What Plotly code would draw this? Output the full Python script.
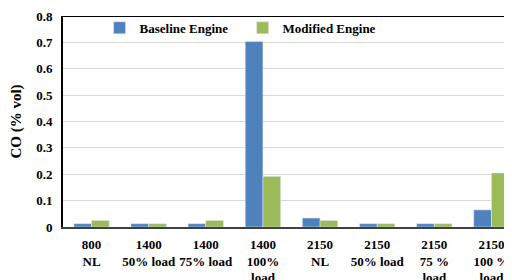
import plotly.graph_objects as go

categories = ["800<br>NL", "1400<br>50% load", "1400<br>75% load", "1400<br>100%<br>load",
              "2150<br>NL", "2150<br>50% load", "2150<br>75 %<br>load", "2150<br>100 %<br>load"]
baseline = [0.0125, 0.0125, 0.0125, 0.703, 0.034, 0.0125, 0.0125, 0.065]
modified = [0.025, 0.0125, 0.025, 0.192, 0.025, 0.0125, 0.0125, 0.205]
y_ticks = [0, 0.1, 0.2, 0.3, 0.4, 0.5, 0.6, 0.7, 0.8]
y_tick_labels = ["0", "0.1", "0.2", "0.3", "0.4", "0.5", "0.6", "0.7", "0.8"]

FONT = "Liberation Serif"
x_idx = list(range(len(categories)))

fig = go.Figure()
fig.add_trace(go.Bar(x=x_idx, y=baseline, name="Baseline Engine", marker_color="#4F81BD"))
fig.add_trace(go.Bar(x=x_idx, y=modified, name="Modified Engine", marker_color="#9BBB59"))

fig.update_layout(
    width=512, height=272,
    margin=dict(l=55, r=0, t=8, b=53),
    paper_bgcolor="white", plot_bgcolor="white",
    barmode="group", bargap=0.38, bargroupgap=0,
    font=dict(family=FONT, size=13, color="black"),
    legend=dict(orientation="h", x=0.08, y=1.015, xanchor="left", yanchor="top",
                font=dict(family=FONT, size=13, color="black", weight="bold"),
                bgcolor="rgba(0,0,0,0)", itemwidth=30, entrywidth=98, entrywidthmode="pixels",
                tracegroupgap=0),
    xaxis=dict(tickmode="array", tickvals=x_idx, ticktext=[f"<b>{c}</b>" for c in categories],
               range=[-0.5, 7.5], showgrid=False, showline=True, linecolor="#404040",
               linewidth=2, mirror=False, ticks="", tickfont=dict(family=FONT, size=13),
               ticklabelstandoff=4, automargin=False, fixedrange=True),
    yaxis=dict(range=[0, 0.8], tickvals=y_ticks, ticktext=[f"<b>{t}</b>" for t in y_tick_labels],
               showgrid=True, gridcolor="#d9d9d9", gridwidth=1, showline=True, linecolor="black",
               linewidth=2, ticks="", zeroline=False, ticklabelstandoff=6, automargin=False,
               tickfont=dict(family=FONT, size=13),
               title=dict(text="<b>CO (% vol)</b>", font=dict(family=FONT, size=15), standoff=12)),
)
# top frame line
fig.add_shape(type="line", xref="paper", yref="y", x0=0, x1=1, y0=0.8, y1=0.8,
              line=dict(color="black", width=2))

fig.write_html("out.html")
